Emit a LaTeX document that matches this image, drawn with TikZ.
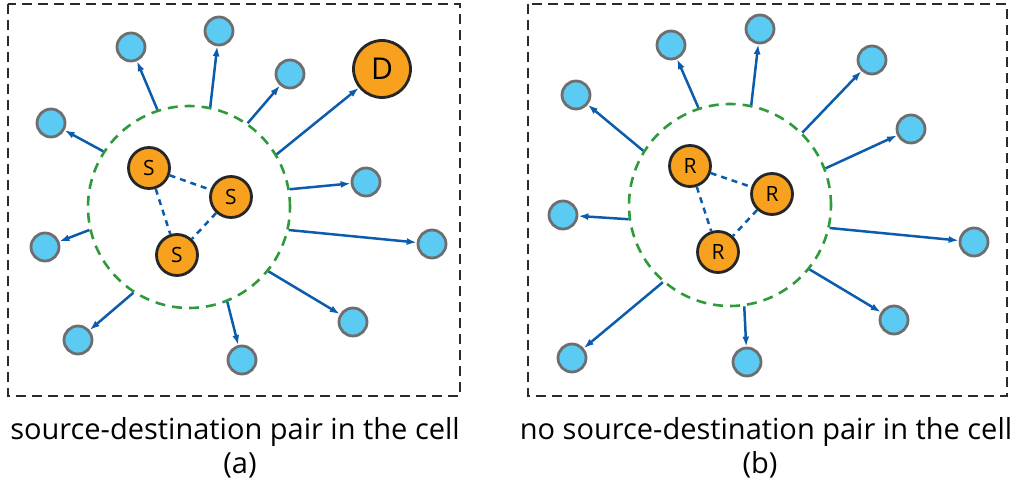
\documentclass[tikz,border=0pt]{standalone}
\usepackage{fontspec}
\setmainfont{Open Sans}
\usetikzlibrary{arrows.meta}
\definecolor{orangeF}{HTML}{F7A11F}
\definecolor{skyF}{HTML}{5CCBF3}
\definecolor{skyD}{HTML}{6E6E6E}
\definecolor{arrowB}{HTML}{0B5CAD}
\definecolor{ringG}{HTML}{2F9A3A}
\definecolor{boxK}{HTML}{2B2B2B}
\tikzset{
  cellbox/.style={draw=boxK, line width=2.8pt, dash pattern=on 10pt off 6pt},
  ringnode/.style={circle, draw=ringG, line width=2.6pt, dash pattern=on 10pt off 7pt, minimum size=202pt, inner sep=0pt},
  endnode/.style={circle, fill=orangeF, draw=black!85, line width=2.8pt, minimum size=41pt, inner sep=0pt, font=\fontsize{21}{21}\selectfont},
  bignode/.style={circle, fill=orangeF, draw=black!85, line width=2.8pt, minimum size=57pt, inner sep=0pt, font=\fontsize{30}{30}\selectfont},
  relnode/.style={circle, fill=skyF, draw=skyD, line width=2.8pt, minimum size=28pt, inner sep=0pt},
  flow/.style={draw=arrowB, line width=2.5pt, -{Latex[length=10pt,width=7pt]}},
  link/.style={draw=arrowB, line width=2.5pt, dash pattern=on 6pt off 5pt},
  caption/.style={font=\fontsize{29}{29}\selectfont, inner sep=0pt}
}
\begin{document}
\begin{tikzpicture}[x=1pt,y=-1pt]
\useasboundingbox (0,0) rectangle (1019,481);
% ---------- panel (a) ----------
\draw[cellbox] (8,4) rectangle (460,396);
\node[ringnode] (ra) at (189,207) {};
\node[endnode] (s1) at (149,168) {S};
\node[endnode] (s2) at (231,197) {S};
\node[endnode] (s3) at (177,255) {S};
\node[bignode] (d) at (382,69) {D};
\node[relnode] (a1) at (131,47) {};
\node[relnode] (a2) at (219,31) {};
\node[relnode] (a3) at (290,74) {};
\node[relnode] (a4) at (51,123) {};
\node[relnode] (a5) at (366,182) {};
\node[relnode] (a6) at (45,247) {};
\node[relnode] (a7) at (432,244) {};
\node[relnode] (a8) at (78,340) {};
\node[relnode] (a9) at (353,322) {};
\node[relnode] (a10) at (242,360) {};
\draw[link] (s1) -- (s2);
\draw[link] (s1) -- (s3);
\draw[link] (s2) -- (s3);
\draw[flow] (ra.108.4) -- (a1);
\draw[flow] (ra.78.6) -- (a2);
\draw[flow] (ra.55.4) -- (a3);
\draw[flow] (ra.31.4) -- (d);
\draw[flow] (ra.147.9) -- (a4);
\draw[flow] (ra.10.7) -- (a5);
\draw[flow] (ra.193) -- (a6);
\draw[flow] (ra.-13.4) -- (a7);
\draw[flow] (ra.237) -- (a8);
\draw[flow] (ra.-39) -- (a9);
\draw[flow] (ra.-68.7) -- (a10);
\node[caption] (ca) at (235,432) {source-destination pair in the cell};
\node[caption] (la) at (240,465) {(a)};
% ---------- panel (b) ----------
\draw[cellbox] (528,4) rectangle (1007,396);
\node[ringnode] (rb) at (730,205) {};
\node[endnode] (r1) at (690,166) {R};
\node[endnode] (r2) at (772,194) {R};
\node[endnode] (r3) at (718,252) {R};
\node[relnode] (b1) at (671,45) {};
\node[relnode] (b2) at (760,29) {};
\node[relnode] (b3) at (872,60) {};
\node[relnode] (b4) at (576,95) {};
\node[relnode] (b5) at (911,129) {};
\node[relnode] (b6) at (563,215) {};
\node[relnode] (b7) at (974,242) {};
\node[relnode] (b8) at (572,358) {};
\node[relnode] (b9) at (894,320) {};
\node[relnode] (b10) at (747,362) {};
\draw[link] (r1) -- (r2);
\draw[link] (r1) -- (r3);
\draw[link] (r2) -- (r3);
\draw[flow] (rb.108.6) -- (b1);
\draw[flow] (rb.78.6) -- (b2);
\draw[flow] (rb.45.4) -- (b3);
\draw[flow] (rb.148) -- (b4);
\draw[flow] (rb.21.5) -- (b5);
\draw[flow] (rb.188.5) -- (b6);
\draw[flow] (rb.-13.4) -- (b7);
\draw[flow] (rb.229.8) -- (b8);
\draw[flow] (rb.-39) -- (b9);
\draw[flow] (rb.-82.7) -- (b10);
\node[caption] (cb) at (766,432) {no source-destination pair in the cell};
\node[caption] (lb) at (760,465) {(b)};
\end{tikzpicture}
\end{document}
